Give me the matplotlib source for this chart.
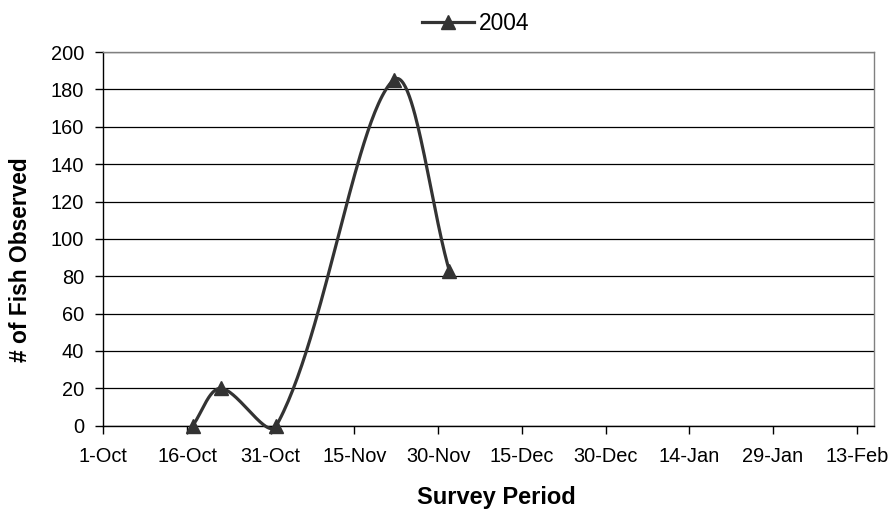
import numpy as np
import pandas as pd
import matplotlib
matplotlib.use("Agg")
import matplotlib.pyplot as plt

plt.rcParams['font.family'] = ['Liberation Sans', 'DejaVu Sans']

# Survey data
survey_dates = ["2004-10-17", "2004-10-22", "2004-11-01", "2004-11-22", "2004-12-02"]
fish_counts = [0, 20, 0, 185, 83]
series_name = "2004"

tick_labels = ["1-Oct", "16-Oct", "31-Oct", "15-Nov", "30-Nov",
               "15-Dec", "30-Dec", "14-Jan", "29-Jan", "13-Feb"]
y_ticks = list(range(0, 201, 20))

start = pd.Timestamp("2004-10-01")
x = np.array([(pd.Timestamp(d) - start).days for d in survey_dates], dtype=float)
y = np.array(fish_counts, dtype=float)


def smooth_curve(pts, n=60):
    """Bezier smoothing through points (screen space), with tangent
    lengths scaled by neighbouring segment lengths."""
    pts = np.asarray(pts, dtype=float)
    m = len(pts)
    d = np.linalg.norm(np.diff(pts, axis=0), axis=1)
    out = []
    for i in range(m - 1):
        p1, p2 = pts[i], pts[i + 1]
        d12 = d[i]
        if i > 0:
            p0 = pts[i - 1]
            c1 = p1 + (p2 - p0) * d12 / (3.0 * (d[i - 1] + d12))
        else:
            c1 = p1 + (p2 - p1) / 3.0
        if i + 2 < m:
            p3 = pts[i + 2]
            c2 = p2 - (p3 - p1) * d12 / (3.0 * (d12 + d[i + 1]))
        else:
            c2 = p2 - (p2 - p1) / 3.0
        t = np.linspace(0, 1, n)[:, None]
        seg = ((1 - t) ** 3) * p1 + 3 * ((1 - t) ** 2) * t * c1 \
            + 3 * (1 - t) * t ** 2 * c2 + t ** 3 * p2
        out.append(seg if i == 0 else seg[1:])
    return np.vstack(out)


fig = plt.figure(figsize=(8.93, 5.09), dpi=100)
ax = fig.add_axes([0.1157, 0.1636, 0.9787 - 0.1157, 0.8978 - 0.1636])
ax.set_xlim(0, 138.1)
ax.set_ylim(0, 200)

# smooth in display space, then map back to data coordinates
disp = ax.transData.transform(np.column_stack([x, y]))
curve = ax.transData.inverted().transform(smooth_curve(disp))

line_color = "#333333"
ax.plot(curve[:, 0], curve[:, 1], color=line_color, lw=2.3,
        solid_capstyle='round', zorder=3, clip_on=False)
ax.plot(x, y, linestyle='none', marker='^', markersize=10.5,
        color=line_color, zorder=4, clip_on=False)

# legend proxy
ax.plot([], [], color=line_color, lw=2.3, marker='^', markersize=10.5,
        label=series_name)
fig.legend(loc='center', bbox_to_anchor=(0.5325, 0.953), frameon=False,
           fontsize=16.4, handlelength=2.3, handletextpad=0.2)

ax.set_xticks(np.arange(len(tick_labels)) * 15)
ax.set_xticklabels(tick_labels)
ax.set_yticks(y_ticks)

ax.yaxis.grid(True, color='black', lw=0.9)
ax.set_axisbelow(True)

for side in ['top', 'right']:
    ax.spines[side].set_color('#808080')
    ax.spines[side].set_linewidth(1.0)
for side in ['left', 'bottom']:
    ax.spines[side].set_color('black')
    ax.spines[side].set_linewidth(1.0)

ax.tick_params(axis='both', direction='out', length=6, width=1,
               labelsize=14.4, color='black')
ax.tick_params(axis='x', pad=9)
ax.tick_params(axis='y', pad=8)

ax.set_xlabel("Survey Period", fontsize=17, fontweight='bold')
ax.set_ylabel("# of Fish Observed", fontsize=16.4, fontweight='bold')
ax.xaxis.label.set_verticalalignment('center')
ax.xaxis.set_label_coords(0.5104, -0.191)
ax.yaxis.set_label_coords(-0.093, 0.444)

fig.savefig("out.png", dpi=100)
